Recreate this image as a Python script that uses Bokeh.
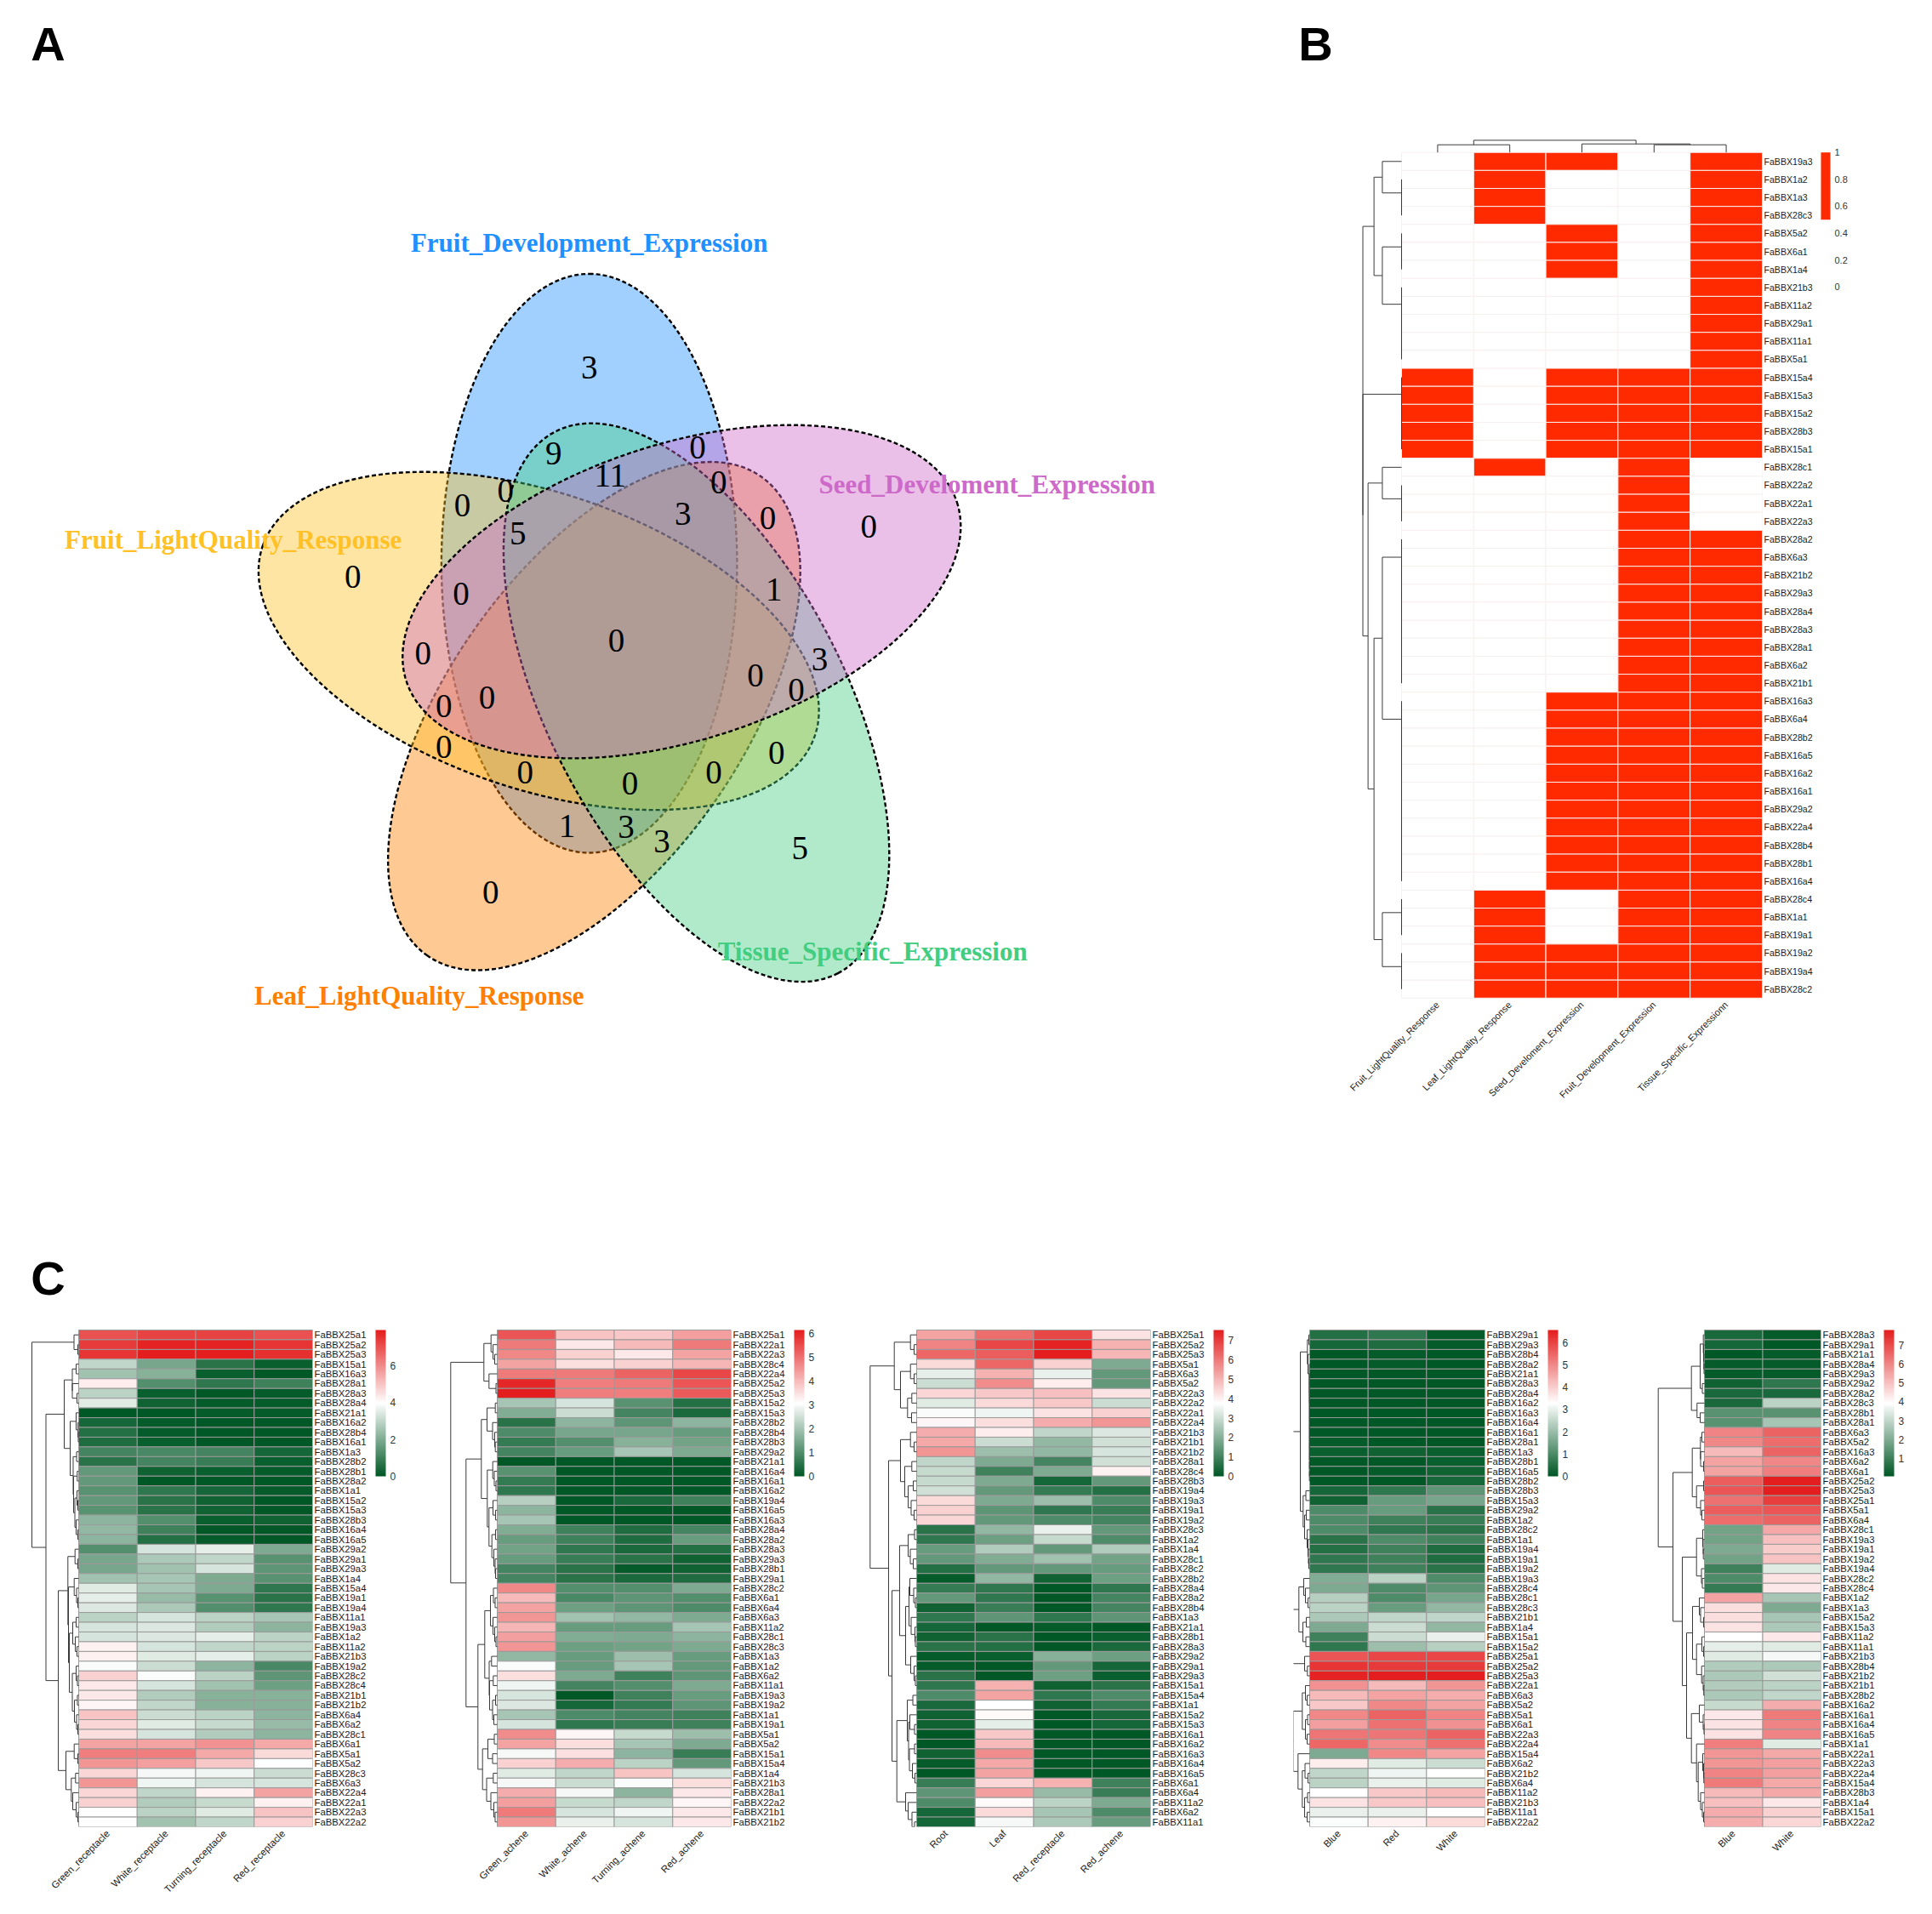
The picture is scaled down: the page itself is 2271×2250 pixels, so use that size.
import math
from bokeh.plotting import figure
from bokeh.layouts import column, row
from bokeh.models import (Range1d, LinearAxis, FixedTicker, ColumnDataSource, LinearColorMapper, ColorBar)
from bokeh.embed import file_html
from bokeh.resources import INLINE

# ---------- Panel A data ----------
venn_sets = ["Fruit_Development_Expression", "Seed_Develoment_Expression", "Tissue_Specific_Expression",
             "Leaf_LightQuality_Response", "Fruit_LightQuality_Response"]
venn_colors = ["#1E90FF", "#CD69C9", "#43CD80", "#FF7F00", "#FFC125"]
venn_counts = ["3", "9", "0", "11", "0", "0", "0", "3", "0", "5", "0", "0", "0", "1", "0", "3", "0", "0", "0",
               "0", "0", "0", "0", "0", "0", "0", "1", "3", "3", "5", "0"]

# ---------- Panel B data ----------
b_cols = ["Fruit_LightQuality_Response", "Leaf_LightQuality_Response", "Seed_Develoment_Expression",
          "Fruit_Development_Expression", "Tissue_Specific_Expressionn"]
b_genes = ["FaBBX19a3", "FaBBX1a2", "FaBBX1a3", "FaBBX28c3", "FaBBX5a2", "FaBBX6a1", "FaBBX1a4", "FaBBX21b3",
           "FaBBX11a2", "FaBBX29a1", "FaBBX11a1", "FaBBX5a1", "FaBBX15a4", "FaBBX15a3", "FaBBX15a2", "FaBBX28b3",
           "FaBBX15a1", "FaBBX28c1", "FaBBX22a2", "FaBBX22a1", "FaBBX22a3", "FaBBX28a2", "FaBBX6a3", "FaBBX21b2",
           "FaBBX29a3", "FaBBX28a4", "FaBBX28a3", "FaBBX28a1", "FaBBX6a2", "FaBBX21b1", "FaBBX16a3", "FaBBX6a4",
           "FaBBX28b2", "FaBBX16a5", "FaBBX16a2", "FaBBX16a1", "FaBBX29a2", "FaBBX22a4", "FaBBX28b4", "FaBBX28b1",
           "FaBBX16a4", "FaBBX28c4", "FaBBX1a1", "FaBBX19a1", "FaBBX19a2", "FaBBX19a4", "FaBBX28c2"]
b_matrix = ["01101", "01001", "01001", "01001", "00101", "00101", "00101", "00001", "00001", "00001", "00001",
            "00001", "10111", "10111", "10111", "10111", "10111", "01010", "00010", "00010", "00010", "00011",
            "00011", "00011", "00011", "00011", "00011", "00011", "00011", "00011", "00111", "00111", "00111",
            "00111", "00111", "00111", "00111", "00111", "00111", "00111", "00111", "01011", "01011", "01011",
            "01111", "01111", "01111"]

# ---------- Panel C data ----------
c1_cols = ["Green_receptacle", "White_receptacle", "Turning_receptacle", "Red_receptacle"]
c1_genes = ["25a1", "25a2", "25a3", "15a1", "16a3", "28a1", "28a3", "28a4", "21a1", "16a2", "28b4", "16a1", "1a3",
            "28b2", "28b1", "28a2", "1a1", "15a2", "15a3", "28b3", "16a4", "16a5", "29a2", "29a1", "29a3", "1a4",
            "15a4", "19a1", "19a4", "11a1", "19a3", "1a2", "11a2", "21b3", "19a2", "28c2", "28c4", "21b1", "21b2",
            "6a4", "6a2", "28c1", "6a1", "5a1", "5a2", "28c3", "6a3", "22a4", "22a1", "22a3", "22a2"]
c1_values = [[7.0, 7.3, 7.3, 7.0], [7.4, 7.8, 7.8, 7.5], [7.5, 7.9, 7.95, 7.55], [3.0, 1.9, 0.7, 0.2],
             [2.5, 2.1, 0.2, 0.0], [4.3, 1.3, 0.8, 1.0], [2.9, 0.2, 0.05, 0.1], [3.5, 0.3, 0.1, 0.1],
             [0.0, 0.05, 0.1, 0.1], [0.4, 0.15, 0.05, 0.05], [0.6, 0.15, 0.05, 0.02], [0.5, 0.2, 0.02, 0.02],
             [1.1, 1.2, 1.1, 0.4], [0.7, 1.1, 0.9, 0.2], [1.6, 0.3, 0.2, 0.1], [1.6, 0.02, 0.02, 0.02],
             [1.4, 0.8, 0.4, 0.15], [1.6, 0.7, 0.3, 0.03], [1.4, 0.7, 0.3, 0.03], [2.2, 1.3, 0.2, 0.3],
             [2.3, 1.0, 0.02, 0.02], [2.2, 0.6, 0.1, 0.03], [1.3, 3.3, 3.6, 2.0], [1.9, 2.7, 3.0, 1.4],
             [1.9, 2.5, 3.3, 1.5], [2.5, 2.6, 2.0, 1.4], [3.5, 2.6, 2.0, 0.8], [3.6, 2.4, 1.4, 0.7],
             [3.4, 2.7, 1.3, 0.8], [2.9, 3.3, 2.9, 2.6], [3.3, 3.4, 2.8, 2.2], [3.3, 3.4, 3.6, 2.9],
             [4.2, 3.3, 3.0, 2.9], [4.2, 3.5, 3.6, 2.9], [3.9, 3.2, 2.2, 1.2], [4.8, 3.9, 2.9, 1.5],
             [4.4, 3.3, 2.5, 1.7], [4.4, 2.8, 2.1, 2.1], [4.1, 3.0, 2.1, 2.1], [5.0, 3.2, 2.9, 2.2],
             [4.7, 3.5, 3.1, 2.4], [4.5, 3.3, 2.8, 2.2], [5.6, 5.6, 5.9, 5.5], [6.2, 6.2, 5.5, 4.6],
             [5.8, 5.7, 4.9, 4.0], [4.7, 3.8, 3.7, 3.2], [5.8, 3.7, 3.3, 3.3], [4.7, 3.0, 4.2, 5.6],
             [4.8, 2.8, 3.1, 4.2], [4.0, 2.9, 3.5, 5.0], [4.0, 2.5, 3.0, 4.8]]

c2_cols = ["Green_achene", "White_achene", "Turning_achene", "Red_achene"]
c2_genes = ["25a1", "22a1", "22a3", "28c4", "22a4", "25a2", "25a3", "15a2", "15a3", "28b2", "28b4", "28b3", "29a2",
            "21a1", "16a4", "16a1", "16a2", "19a4", "16a5", "16a3", "28a4", "28a2", "28a3", "29a3", "28b1", "29a1",
            "28c2", "6a1", "6a4", "6a3", "11a2", "28c1", "28c3", "1a3", "1a2", "6a2", "11a1", "19a3", "19a2", "1a1",
            "19a1", "5a1", "5a2", "15a1", "15a4", "1a4", "21b3", "28a1", "22a2", "21b1", "21b2"]
c2_values = [[5.35, 3.9, 3.8, 4.4], [4.9, 3.4, 4.0, 4.9], [4.7, 3.7, 3.4, 4.3], [4.3, 3.5, 3.7, 4.1],
             [4.9, 4.9, 5.2, 5.55], [6.0, 4.8, 4.9, 5.35], [6.15, 4.8, 4.8, 5.3], [2.0, 2.6, 1.1, 0.45],
             [1.6, 2.45, 0.85, 0.35], [0.5, 1.7, 1.15, 1.7], [0.95, 1.45, 1.45, 1.3], [0.65, 1.05, 1.65, 1.4],
             [0.85, 1.25, 2.0, 1.55], [0.0, 0.02, 0.03, 0.03], [1.1, 0.0, 0.0, 0.0], [0.65, 0.0, 0.0, 0.0],
             [0.6, 0.0, 0.0, 0.0], [2.2, 0.02, 0.35, 0.8], [1.7, 0.0, 0.0, 0.0], [2.05, 0.0, 0.0, 0.0],
             [1.6, 0.8, 0.4, 0.85], [1.25, 0.75, 0.4, 1.25], [1.4, 0.6, 0.35, 0.45], [1.3, 0.7, 0.5, 0.2],
             [0.85, 0.5, 0.1, 0.2], [0.85, 0.55, 0.35, 0.4], [4.7, 1.05, 1.05, 1.55], [4.0, 0.9, 1.15, 1.0],
             [4.3, 1.35, 1.15, 0.95], [4.5, 1.95, 1.75, 1.5], [4.1, 1.3, 1.3, 2.0], [4.4, 1.6, 1.55, 1.7],
             [4.5, 1.35, 1.4, 1.5], [1.8, 1.25, 1.9, 1.3], [3.0, 1.25, 2.0, 1.2], [3.5, 1.5, 0.75, 1.15],
             [2.9, 0.85, 1.05, 1.55], [2.6, 0.05, 0.75, 1.3], [2.65, 0.25, 0.65, 1.15], [2.05, 0.95, 0.85, 0.75],
             [2.6, 0.6, 0.7, 0.8], [4.6, 3.2, 2.4, 1.9], [4.3, 3.5, 2.0, 1.5], [2.95, 3.5, 1.7, 0.7],
             [3.7, 4.2, 2.25, 1.2], [2.7, 2.35, 3.9, 2.6], [2.95, 2.45, 3.0, 3.5], [4.2, 2.95, 1.7, 3.4],
             [4.4, 2.4, 2.35, 3.2], [4.85, 2.6, 2.9, 3.4], [4.5, 2.8, 2.6, 3.4]]

c3_cols = ["Root", "Leaf", "Red_receptacle", "Red_achene"]
c3_genes = ["25a1", "25a2", "25a3", "5a1", "6a3", "5a2", "22a3", "22a2", "22a1", "22a4", "21b3", "21b1", "21b2",
            "28a1", "28c4", "28b3", "19a4", "19a3", "19a1", "19a2", "28c3", "1a2", "1a4", "28c1", "28c2", "28b2",
            "28a4", "28a2", "28b4", "1a3", "21a1", "28b1", "28a3", "29a2", "29a1", "29a3", "15a1", "15a4", "1a1",
            "15a2", "15a3", "16a1", "16a2", "16a3", "16a4", "16a5", "6a1", "6a4", "11a2", "6a2", "11a1"]
c3_values = [[5.3, 6.2, 6.85, 4.2], [5.85, 6.85, 7.4, 5.1], [6.3, 6.4, 7.54, 5.0], [4.4, 6.25, 4.5, 1.9],
             [3.4, 5.05, 3.5, 1.5], [3.0, 5.65, 4.1, 1.45], [4.45, 4.7, 4.85, 4.25], [3.3, 4.35, 4.65, 3.0],
             [3.7, 3.55, 4.25, 4.55], [3.9, 4.3, 5.15, 5.5], [5.15, 4.1, 2.85, 3.2], [5.2, 3.0, 2.2, 3.1],
             [5.5, 2.35, 2.15, 3.15], [2.85, 1.9, 1.0, 3.1], [2.9, 0.95, 1.9, 4.0], [2.9, 1.9, 0.35, 1.45],
             [3.05, 1.5, 0.8, 0.6], [4.35, 1.9, 2.3, 1.2], [4.5, 1.4, 0.75, 0.85], [4.45, 1.5, 1.2, 1.05],
             [0.65, 2.15, 3.45, 1.5], [0.75, 1.65, 2.9, 1.2], [1.55, 2.6, 1.45, 2.6], [1.5, 1.95, 2.4, 1.75],
             [0.6, 1.45, 1.5, 1.55], [0.1, 2.15, 0.3, 1.65], [0.8, 0.75, 0.05, 0.75], [1.45, 0.75, 0.03, 1.0],
             [0.3, 0.85, 0.02, 1.0], [0.7, 1.4, 0.7, 1.4], [0.35, 0.0, 0.1, 0.02], [0.25, 0.65, 0.05, 0.2],
             [0.65, 0.55, 0.02, 0.45], [0.15, 0.2, 2.0, 1.65], [0.1, 0.03, 1.45, 0.35], [0.65, 0.05, 1.6, 0.2],
             [0.7, 5.05, 0.25, 0.65], [1.2, 5.3, 0.75, 1.2], [0.4, 3.8, 0.25, 0.8], [0.3, 3.85, 0.05, 0.45],
             [0.25, 3.4, 0.05, 0.35], [0.0, 4.7, 0.05, 0.02], [0.02, 4.9, 0.03, 0.02], [0.25, 5.7, 0.02, 0.02],
             [0.1, 5.2, 0.02, 0.02], [0.05, 5.3, 0.02, 0.02], [0.9, 4.45, 5.05, 0.95], [1.4, 5.35, 2.25, 0.9],
             [1.15, 3.85, 2.8, 1.85], [0.35, 4.35, 2.45, 1.15], [0.35, 3.6, 2.55, 1.55]]

c4_cols = ["Blue", "Red", "White"]
c4_genes = ["29a1", "29a3", "28b4", "28a2", "21a1", "28a3", "28a4", "16a2", "16a3", "16a4", "16a1", "28a1", "1a3",
            "28b1", "16a5", "28b2", "28b3", "15a3", "29a2", "1a2", "28c2", "1a1", "19a4", "19a1", "19a2", "19a3",
            "28c4", "28c1", "28c3", "21b1", "1a4", "15a1", "15a2", "25a1", "25a2", "25a3", "22a1", "6a3", "5a2",
            "5a1", "6a1", "22a3", "22a4", "15a4", "6a2", "21b2", "6a4", "11a2", "21b3", "11a1", "22a2"]
c4_values = [[0.5, 0.65, 0.1], [0.3, 0.45, 0.1], [0.02, 0.1, 0.02], [0.02, 0.1, 0.02], [0.02, 0.05, 0.03],
             [0.02, 0.03, 0.03], [0.02, 0.03, 0.03], [0.02, 0.02, 0.03], [0.02, 0.02, 0.03], [0.02, 0.02, 0.02],
             [0.01, 0.02, 0.02], [0.1, 0.03, 0.05], [0.15, 0.2, 0.15], [0.05, 0.03, 0.15], [0.03, 0.1, 0.2],
             [0.05, 0.0, 0.3], [0.3, 0.65, 1.2], [0.2, 1.35, 1.55], [1.05, 1.35, 0.55], [1.05, 0.85, 0.75],
             [1.05, 0.6, 0.55], [0.55, 1.0, 0.8], [0.5, 0.8, 0.45], [0.6, 0.85, 0.4], [0.65, 0.85, 0.55],
             [1.7, 2.4, 1.05], [1.6, 1.05, 1.2], [2.35, 1.05, 1.55], [2.4, 1.35, 1.9], [2.2, 2.5, 2.5],
             [1.6, 2.6, 1.9], [0.8, 2.6, 3.0], [0.6, 2.05, 2.35], [5.7, 5.95, 5.95], [6.2, 6.1, 6.1],
             [6.45, 6.56, 6.5], [4.85, 4.25, 4.8], [4.25, 4.6, 4.45], [4.1, 5.0, 4.6], [5.0, 5.55, 5.05],
             [4.7, 5.35, 4.85], [5.25, 5.25, 5.55], [5.45, 4.95, 5.35], [1.65, 5.0, 4.6], [3.55, 2.9, 2.6],
             [2.5, 3.1, 3.25], [2.4, 3.0, 2.85], [3.25, 4.1, 4.3], [3.7, 4.1, 4.2], [3.0, 3.0, 3.25],
             [3.2, 3.5, 3.8]]

c5_cols = ["Blue", "White"]
c5_genes = ["28a3", "29a1", "21a1", "28a4", "29a3", "29a2", "28a2", "28c3", "28b1", "28a1", "6a3", "5a2", "16a3",
            "6a2", "6a1", "25a2", "25a3", "25a1", "5a1", "6a4", "28c1", "19a3", "19a1", "19a2", "19a4", "28c2",
            "28c4", "1a2", "1a3", "15a2", "15a3", "11a2", "11a1", "21b3", "28b4", "21b2", "21b1", "28b2", "16a2",
            "16a1", "16a4", "16a5", "1a1", "22a1", "22a3", "22a4", "15a4", "28b3", "1a4", "15a1", "22a2"]
c5_values = [[0.5, 0.15], [0.4, 0.02], [0.1, 0.15], [0.15, 0.2], [0.15, 0.2], [0.3, 0.8], [0.5, 0.5], [0.5, 2.9],
             [1.4, 1.4], [1.45, 2.6], [6.05, 6.6], [6.0, 6.4], [5.1, 6.55], [5.5, 5.95], [5.5, 6.1], [6.7, 7.75],
             [6.8, 7.8], [6.35, 7.25], [6.7, 6.85], [6.45, 6.6], [1.85, 5.45], [1.8, 5.05], [2.0, 4.8], [1.8, 4.95],
             [1.0, 3.5], [1.3, 4.4], [0.9, 4.35], [5.5, 2.6], [4.5, 1.95], [4.5, 2.6], [4.4, 2.65], [3.9, 4.3],
             [3.55, 3.5], [3.5, 3.75], [2.75, 2.7], [2.7, 3.2], [2.75, 2.9], [2.7, 3.0], [3.1, 5.35], [4.3, 6.2],
             [4.4, 6.05], [4.4, 6.05], [6.15, 3.45], [5.7, 5.45], [5.75, 5.55], [6.05, 5.6], [6.2, 5.4], [5.1, 5.4],
             [5.05, 4.3], [5.35, 4.75], [5.35, 4.6]]

# ---------- dendrogram merge heights (px from the heat map edge) ----------
L = None
def T(h, a, b):
    return (h, a, b)
def lad(*hs):
    node = T(hs[-1], L, L)
    for h in reversed(hs[:-1]):
        node = T(h, L, node)
    return node

b_row_tree = T(45.5, T(32.4, T(22.6, L, lad(0, 0)), T(22.6, lad(0, 0), lad(0, 0, 0, 0))),
               T(45.5, lad(0, 0, 0, 0),
                 T(39.4, T(22.6, L, lad(0, 0)),
                   T(32.4, T(22.6, lad(0, 0, 0, 0, 0, 0, 0, 0), lad(0, 0, 0, 0, 0, 0, 0, 0, 0, 0)),
                     T(22.6, lad(0, 0), lad(0, 0))))))
b_col_tree = T(14.3, T(9, L, L), T(10, L, T(9, L, L)))

c1_tree = T(55, lad(5.5, 1),
            T(38.5,
              T(17, T(7.5, lad(3), lad(7.5, 2)),
                T(10, lad(3, .8, .5),
                  T(6.5, lad(2.5), T(6, lad(1.7), T(4.5, lad(2, 1), lad(3, 1)))))),
              T(24,
                T(12.7, lad(4.3, 1),
                  T(12, lad(5.3, 2.5, 1),
                    T(11, T(7, lad(3), lad(4, 2)),
                      T(7.5, lad(3, 1.5), T(5, lad(1.5), lad(2.5, 1)))))),
                T(15, lad(5.3, 1), T(8.7, lad(3.7), lad(7, 3, 1))))))
c2_tree = T(54.7, T(15.7, lad(7.3, 5, 3), lad(9.7, 1.5)),
            T(36.7,
              T(18.7, T(12, lad(2.3), lad(5.5, 3, 2.3)),
                T(11.7, lad(5.3, 3.5, 1.5), T(9.7, lad(5, 2), T(6.3, lad(2), lad(4, 2.5, 2))))),
              T(22.7,
                T(14.7, T(8, lad(4.5, 2.5), lad(5, 3, 1.5)), T(9.5, lad(6.7), T(9, lad(4.7), T(5.5, lad(2), lad(4))))),
                T(17.3, T(11, lad(3.5), lad(5.5)), T(12.5, lad(4.7), lad(7.5, 4, 2.5))))))
c3_tree = T(54.7, T(26.3, lad(7.3, 3), T(19, lad(7.3, 3), T(10.7, lad(5.7), lad(6)))),
            T(33, T(19, lad(7.3, 3), T(14, lad(5.7), T(10, lad(4), lad(6.5, 3)))),
              T(29,
                T(20, T(10, lad(2.5), lad(7.5, 4)),
                  T(13, T(9, lad(8, 3.5, 1.5), lad(6.5, 2, 1.5)), lad(7, 3, 1.5))),
                T(23.3, T(11, lad(4.5), T(9.5, lad(8, 2.5), T(8.5, lad(2.5), lad(5, 2)))),
                  lad(13, 10, 5.5, 2.5)))))
c4_tree = T(40, T(25, T(11, T(2.7, lad(1), lad(2, .5, .5, .5, .3, .3, .3, .3, .3, .3, .3, .3, .3)),
                        T(7.7, lad(4.5), T(6, lad(4), lad(3, 2, 1.5, 1)))),
                  T(12.7, lad(7, 5, 2), T(8, lad(4), lad(4.5)))),
            T(25, lad(6, 2.7),
              T(19.3, T(8.7, lad(5, 3), T(5, lad(2.5), lad(3))),
                T(13.7, L, T(8.7, lad(5.5, 2), T(6, lad(2.5), lad(3)))))))
c5_tree = T(54.3, T(15.3, T(5, lad(1.3, 1, .7, .5), lad(2.5)), lad(8.7, 5)),
            T(37, T(14.3, T(4.7, lad(3), lad(4.5, 1)), T(9.3, lad(1), lad(4.5, 3))),
              T(26, T(9.3, lad(2, 1.5, 1.3), lad(3.5, 2.5)),
                T(21, T(14, lad(6, 4.5, 1), T(9.3, lad(3, 1), lad(3.3, 1.5, .8))),
                  T(15.3, lad(6, 1.5, .5), T(9.3, L, T(7.3, lad(2, 1, .7), lad(4.5, 2.5, 1))))))))

def walk(node, state, segs):
    if node is None:
        i = state[0]
        state[0] += 1
        return i, 0.0
    h, a, b = node
    pa_, ha = walk(a, state, segs)
    pb_, hb = walk(b, state, segs)
    segs.append((ha, h, hb, pa_, pb_))
    return (pa_ + pb_) / 2, h

SANS = "Liberation Sans"
SERIF = "Liberation Serif"

def ramp(n=50):
    lo, mid, hi = (0, 88, 38), (255, 255, 255), (228, 30, 30)
    out = []
    for i in range(n):
        f = i / (n - 1)
        out.append("#%02x%02x%02x" % tuple(round(lo[k] + (mid[k] - lo[k]) * f) for k in range(3)))
    for i in range(1, n):
        f = i / (n - 1)
        out.append("#%02x%02x%02x" % tuple(round(mid[k] + (hi[k] - mid[k]) * f) for k in range(3)))
    return out

def heat(fig_l, fig_r, fig_t, fig_b, frame_l, frame_t, frame_b, heat_l, heat_r, heat_t, heat_b,
         genes, cols, vals, tree, low, high, ticks, bar_h, bar_w=12, palette=None, pad=8, row_size="11.3px",
         col_size="11.5px", border="#9a9a9a", col_tree=None, overrides=None, text_col="#1a1a1a",
         standoff=2, lab_size="12px"):
    nr, nc = len(genes), len(cols)
    cw = (heat_r - heat_l) / nc
    rh = (heat_b - heat_t) / nr
    p = figure(width=fig_r - fig_l, height=fig_b - fig_t, toolbar_location=None, output_backend="svg",
               x_axis_location=None, y_axis_location=None, min_border_left=frame_l - fig_l,
               min_border_right=fig_r - heat_r, min_border_top=frame_t - fig_t, min_border_bottom=fig_b - frame_b,
               outline_line_color=None, tools="",
               x_range=Range1d(-0.5 - (heat_l - frame_l) / cw, nc - 0.5),
               y_range=Range1d(nr - 0.5 + (frame_b - heat_b) / rh, -0.5 - (heat_t - frame_t) / rh))
    p.xgrid.visible = False
    p.ygrid.visible = False
    xs, ys, vs = [], [], []
    for i in range(nr):
        for j in range(nc):
            xs.append(j)
            ys.append(i)
            vs.append(vals[i][j])
    mapper = LinearColorMapper(palette=palette or ramp(), low=low, high=high)
    p.rect("x", "y", 1, 1, source=ColumnDataSource(dict(x=xs, y=ys, v=vs)),
           fill_color={"field": "v", "transform": mapper}, line_color=border, line_width=1)
    segs = []
    st = [0]
    walk(tree, st, segs)
    if st[0] != nr:
        print("leaf mismatch", st[0], nr)
    p.multi_line([[-0.5 - a / cw, -0.5 - h / cw, -0.5 - h / cw, -0.5 - b / cw] for a, h, b, _, _ in segs],
                 [[u, u, v, v] for _, _, _, u, v in segs], line_color="#3a3a3a", line_width=1)
    if col_tree is not None:
        segs = []
        walk(col_tree, [0], segs)
        p.multi_line([[u, u, v, v] for _, _, _, u, v in segs],
                     [[-0.5 - a / rh, -0.5 - h / rh, -0.5 - h / rh, -0.5 - b / rh] for a, h, b, _, _ in segs],
                     line_color="#3a3a3a", line_width=1)
    ry = LinearAxis(ticker=FixedTicker(ticks=list(range(nr))),
                    major_label_overrides={i: g for i, g in enumerate(genes)},
                    axis_line_color=None, major_tick_line_color=None, minor_tick_line_color=None,
                    major_tick_out=0, major_tick_in=0,
                    major_label_text_font=SANS, major_label_text_font_size=row_size,
                    major_label_text_color=text_col, major_label_standoff=standoff)
    p.add_layout(ry, "right")
    bx = LinearAxis(ticker=FixedTicker(ticks=list(range(nc))),
                    major_label_overrides={i: g for i, g in enumerate(cols)},
                    axis_line_color=None, major_tick_line_color=None, minor_tick_line_color=None,
                    major_tick_out=0, major_tick_in=0,
                    major_label_text_font=SANS, major_label_text_font_size=col_size,
                    major_label_text_color=text_col, major_label_orientation=math.pi / 4,
                    major_label_standoff=6)
    if frame_b != heat_b:
        bx.fixed_location = nr - 0.5
    p.add_layout(bx, "below")
    cb = ColorBar(color_mapper=mapper, ticker=FixedTicker(ticks=ticks), width=bar_w, height=bar_h,
                  location=(0, frame_b - heat_t - bar_h - pad), padding=pad, margin=0,
                  major_tick_line_color=None, minor_tick_line_color=None,
                  bar_line_color=None, border_line_color=None, background_fill_alpha=0,
                  major_label_text_font=SANS, major_label_text_font_size=lab_size,
                  major_label_text_color="#333333", label_standoff=5,
                  major_label_overrides=overrides or {})
    p.add_layout(cb, "right")
    return p

# ---------- Panel A ----------
ROW1_H, FRAME_B = 1460, 1300
pa = figure(width=1500, height=ROW1_H, toolbar_location=None, output_backend="svg", x_axis_location=None,
            y_axis_location=None, min_border_left=0, min_border_right=0, min_border_top=0,
            min_border_bottom=ROW1_H - FRAME_B, outline_line_color=None, tools="",
            x_range=Range1d(0, 1500), y_range=Range1d(FRAME_B, 0))
pa.xgrid.visible = False
pa.ygrid.visible = False
VS = 1.448
# each set is an ellipse: centre, half length, half width, tilt clockwise from "up"
ell_cx = [478, 553, 565, 482, 437]
ell_cy = [457, 480, 570, 581, 520]
ell_a = [235, 235, 248, 237, 237]
ell_b = [120, 120, 120, 120, 120]
ell_tilt = [0, 72, 152.4, 214.8, 289]
draw_order = [0, 3, 4, 2, 1]
N_OUT = 240
for k in draw_order:
    ang = math.radians(ell_tilt[k])
    ca, sa = math.cos(ang), math.sin(ang)
    ex, ey = [], []
    for i in range(N_OUT):
        t = 2 * math.pi * i / N_OUT
        up = ell_a[k] * math.cos(t)
        right = ell_b[k] * math.sin(t)
        ex.append((ell_cx[k] + right * ca + up * sa) * VS)
        ey.append((ell_cy[k] + right * sa - up * ca) * VS)
    pa.patch(ex, ey, fill_color=venn_colors[k], fill_alpha=0.42, line_color="black", line_width=2.4, line_dash="5 3")

count_x = [478, 449, 566, 495, 583, 410, 375, 554, 623, 420, 705, 286, 374, 628, 500, 665, 343, 613, 646, 360, 395,
           360, 630, 426, 579, 511, 460, 508, 537, 649, 398]
count_y = [298, 368, 363, 386, 391, 398, 410, 417, 420, 433, 427, 468, 482, 478, 520, 535, 530, 548, 560, 573, 566,
           606, 611, 627, 627, 636, 670, 671, 683, 688, 724]
pa.text([v * VS for v in count_x], [v * VS for v in count_y], text=venn_counts, text_font={"value": SERIF},
        text_font_size={"value": "39px"}, text_align="center", text_baseline="middle", text_color="black")
set_x = [478, 801, 708, 340, 189]
set_y = [197, 393, 772, 808, 438]
pa.text([v * VS for v in set_x], [v * VS for v in set_y], text=venn_sets, text_color=venn_colors,
        text_font={"value": SERIF}, text_font_style="bold", text_font_size={"value": "31px"},
        text_align="center", text_baseline="middle")
pa.text([56], [51], text=["A"], text_font={"value": SANS}, text_font_style="bold", text_font_size={"value": "56px"},
        text_align="center", text_baseline="middle", text_color="black")

# ---------- Panel B ----------
b_vals = [[int(ch) for ch in r] for r in b_matrix]
pb = heat(1500, 2263, 0, ROW1_H, 1500, 0, FRAME_B, 1647, 2071, 178.7, 1172.8, b_genes, b_cols, b_vals, b_row_tree, 0, 1,
          [0, .2, .4, .6, .8, 1], 158, bar_w=11, palette=["#FFFFFF", "#FF2A00"], pad=7, row_size="10.6px",
          col_size="11.1px", border="#F6F0EE", col_tree=b_col_tree, overrides={0: "0", 1: "1"}, lab_size="11px")
cw_b = (2071 - 1647) / 5
rh_b = (1172.8 - 178.7) / 47
pb.text([-0.5 - (1647 - 1546) / cw_b], [-0.5 - (178.7 - 51) / rh_b], text=["B"], text_font={"value": SANS},
        text_font_style="bold", text_font_size={"value": "56px"}, text_align="center", text_baseline="middle",
        text_color="black")

# ---------- Panel C ----------
HT, HB, TOP, BOT = 1563, 2147, 1460, 2242
pc1 = heat(0, 520, TOP, BOT, 0, TOP, HB, 92, 367, HT, HB, ["FaBBX" + g for g in c1_genes], c1_cols, c1_values, c1_tree,
           0, 7.95, [0, 2, 4, 6], 172)
pc2 = heat(520, 1015, TOP, BOT, 520, TOP, HB, 584, 859, HT, HB, ["FaBBX" + g for g in c2_genes], c2_cols, c2_values,
           c2_tree, 0, 6.15, [0, 1, 2, 3, 4, 5, 6], 172)
pc3 = heat(1015, 1505, TOP, BOT, 1015, TOP, HB, 1077, 1352, HT, HB, ["FaBBX" + g for g in c3_genes], c3_cols, c3_values,
           c3_tree, 0, 7.54, [0, 1, 2, 3, 4, 5, 6, 7], 172)
pc4 = heat(1505, 1925, TOP, BOT, 1520, TOP, HB, 1539, 1745, HT, HB, ["FaBBX" + g for g in c4_genes], c4_cols, c4_values,
           c4_tree, 0, 6.56, [0, 1, 2, 3, 4, 5, 6], 172)
pc5 = heat(1925, 2263, TOP, BOT, 1925, TOP, HB, 2003, 2140, HT, HB, ["FaBBX" + g for g in c5_genes], c5_cols, c5_values,
           c5_tree, 0.06, 7.8, [1, 2, 3, 4, 5, 6, 7], 172)
cw_c = 275 / 4
rh_c = 584 / 51
pc1.text([-0.5 - (92 - 56) / cw_c], [-0.5 - (HT - 1502) / rh_c], text=["C"], text_font={"value": SANS},
         text_font_style="bold", text_font_size={"value": "56px"}, text_align="center", text_baseline="middle",
         text_color="black")

page = column(row(pa, pb, spacing=0), row(pc1, pc2, pc3, pc4, pc5, spacing=0), spacing=0)
open("out.html", "w").write(file_html(page, INLINE))
